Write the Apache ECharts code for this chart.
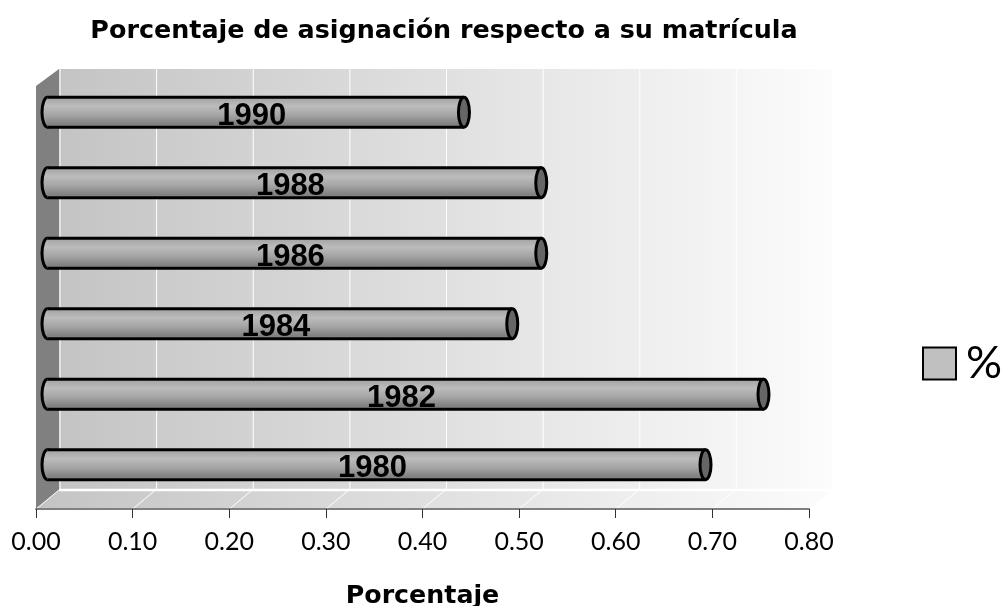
<!DOCTYPE html>
<html>
<head>
<meta charset="utf-8">
<style>
  html, body { margin: 0; padding: 0; background: #fff; }
  #chart { width: 1003px; height: 606px; }
</style>
<script src="https://cdn.jsdelivr.net/npm/echarts@6/dist/echarts.min.js"></script>
</head>
<body>
<div id="chart"></div>
<script>
const years = ["1980", "1982", "1984", "1986", "1988", "1990"];
const porcentaje = [0.681, 0.741, 0.481, 0.511, 0.511, 0.431];
const xTicks = [0, 0.1, 0.2, 0.3, 0.4, 0.5, 0.6, 0.7, 0.8];

const chartTitle = "Porcentaje de asignación respecto a su matrícula";
const xName = "Porcentaje";
const seriesName = "%";
const boldFont = "'DejaVu Sans'";
const thinFont = "Lato";

// fake 3d depth of the excel chart
const depthX = 23, depthY = 18;
const barHeight = 30, capRx = 5.5, outline = 3;

const wallFill = {
  type: "linear", x: 0, y: 0, x2: 1, y2: 0,
  colorStops: [{ offset: 0, color: "#c4c4c4" }, { offset: 1, color: "#fcfcfc" }]
};
const barFill = {
  type: "linear", x: 0, y: 0, x2: 0, y2: 1,
  colorStops: [
    { offset: 0, color: "#a2a2a2" },
    { offset: 0.3, color: "#bcbcbc" },
    { offset: 0.6, color: "#a4a4a4" },
    { offset: 0.9, color: "#808080" },
    { offset: 1, color: "#8c8c8c" }
  ]
};

function renderWalls(params, api) {
  const g = params.coordSys;
  const left = g.x, right = g.x + g.width, top = g.y, bottom = g.y + g.height;
  const wallTop = top - depthY + 1, wallBottom = bottom - depthY - 1;
  const children = [
    { type: "rect", shape: { x: left + depthX, y: wallTop, width: g.width, height: wallBottom - wallTop },
      style: { fill: wallFill } },
    { type: "polygon", shape: { points: [[left, bottom], [right, bottom], [right + depthX, wallBottom], [left + depthX, wallBottom]] },
      style: { fill: wallFill } },
    { type: "polygon", shape: { points: [[left, top], [left + depthX, wallTop], [left + depthX, wallBottom], [left, bottom]] },
      style: { fill: "#808080" } }
  ];
  xTicks.forEach((t) => {
    const x = api.coord([t, 0])[0];
    children.push({ type: "line", shape: { x1: x + depthX + 1, y1: wallTop, x2: x + depthX + 1, y2: wallBottom },
      style: { stroke: "#fff", lineWidth: 1 } });
    children.push({ type: "line", shape: { x1: x, y1: bottom, x2: x + depthX, y2: wallBottom },
      style: { stroke: "#fff", lineWidth: 1 } });
  });
  children.push({ type: "line", shape: { x1: left + depthX, y1: wallBottom, x2: right + depthX, y2: wallBottom },
    style: { stroke: "#fff", lineWidth: 2.5 } });
  return { type: "group", children };
}

function renderBar(params, api) {
  const start = api.coord([0, api.value(1)]);
  const end = api.coord([api.value(0), api.value(1)]);
  const x0 = start[0] + depthX / 2, x1 = end[0] + depthX / 2;
  const cy = start[1] - depthY / 2;
  const h = barHeight;
  return {
    type: "group",
    children: [
      { type: "ellipse", shape: { cx: x0, cy, rx: capRx, ry: h / 2 },
        style: { fill: barFill, stroke: "#000", lineWidth: outline } },
      { type: "rect", shape: { x: x0, y: cy - h / 2, width: x1 - x0, height: h },
        style: { fill: barFill } },
      { type: "line", shape: { x1: x0, y1: cy - h / 2, x2: x1, y2: cy - h / 2 },
        style: { stroke: "#000", lineWidth: outline } },
      { type: "line", shape: { x1: x0, y1: cy + h / 2, x2: x1, y2: cy + h / 2 },
        style: { stroke: "#000", lineWidth: outline } },
      { type: "ellipse", shape: { cx: x1, cy, rx: capRx, ry: h / 2 },
        style: { fill: "#666", stroke: "#000", lineWidth: outline } },
      { type: "text", z2: 5,
        style: { text: years[params.dataIndex], x: (x0 + x1) / 2 - 4, y: cy + 4, align: "center", verticalAlign: "middle",
          font: "bold 31px 'Liberation Sans'", fill: "#000" } }
    ]
  };
}

const chart = echarts.init(document.getElementById("chart"), null, { renderer: "canvas" });
chart.setOption({
  animation: false,
  backgroundColor: "#fff",
  title: {
    text: chartTitle, left: 439, top: 14, textAlign: "center",
    textStyle: { fontFamily: boldFont, fontWeight: "bold", fontSize: 25.4, color: "#000" }
  },
  legend: {
    left: 917, top: 336, selectedMode: false, itemWidth: 33, itemHeight: 32, itemGap: 0,
    textStyle: { fontFamily: thinFont, fontSize: 45, color: "#000", padding: [0, 0, 0, 5] },
    data: [{ name: seriesName, icon: "rect", itemStyle: { color: "#c0c0c0", borderColor: "#000", borderWidth: 2 } }]
  },
  grid: { left: 36, right: 194, top: 86, bottom: 97, outerBoundsMode: "none" },
  xAxis: {
    type: "value", min: 0, max: 0.8, interval: 0.1, z: 5,
    name: xName, nameLocation: "center", nameGap: 75,
    nameTextStyle: { fontFamily: boldFont, fontWeight: "bold", fontSize: 25.3, color: "#000" },
    axisLine: { show: true, lineStyle: { color: "#808080", width: 2 } },
    axisTick: { show: true, length: 9, lineStyle: { color: "#333", width: 1 } },
    axisLabel: { margin: 20, fontFamily: thinFont, fontSize: 25, color: "#000", formatter: (v) => v.toFixed(2) },
    splitLine: { show: false }
  },
  yAxis: { type: "category", data: years, show: false },
  series: [
    { name: "walls", type: "custom", silent: true, clip: false, z: 1, renderItem: renderWalls, data: [[0, 0]] },
    {
      name: seriesName, type: "custom", clip: false, z: 3, renderItem: renderBar,
      encode: { x: 0, y: 1 },
      data: porcentaje.map((v, i) => [v, i])
    }
  ]
});
</script>
</body>
</html>
